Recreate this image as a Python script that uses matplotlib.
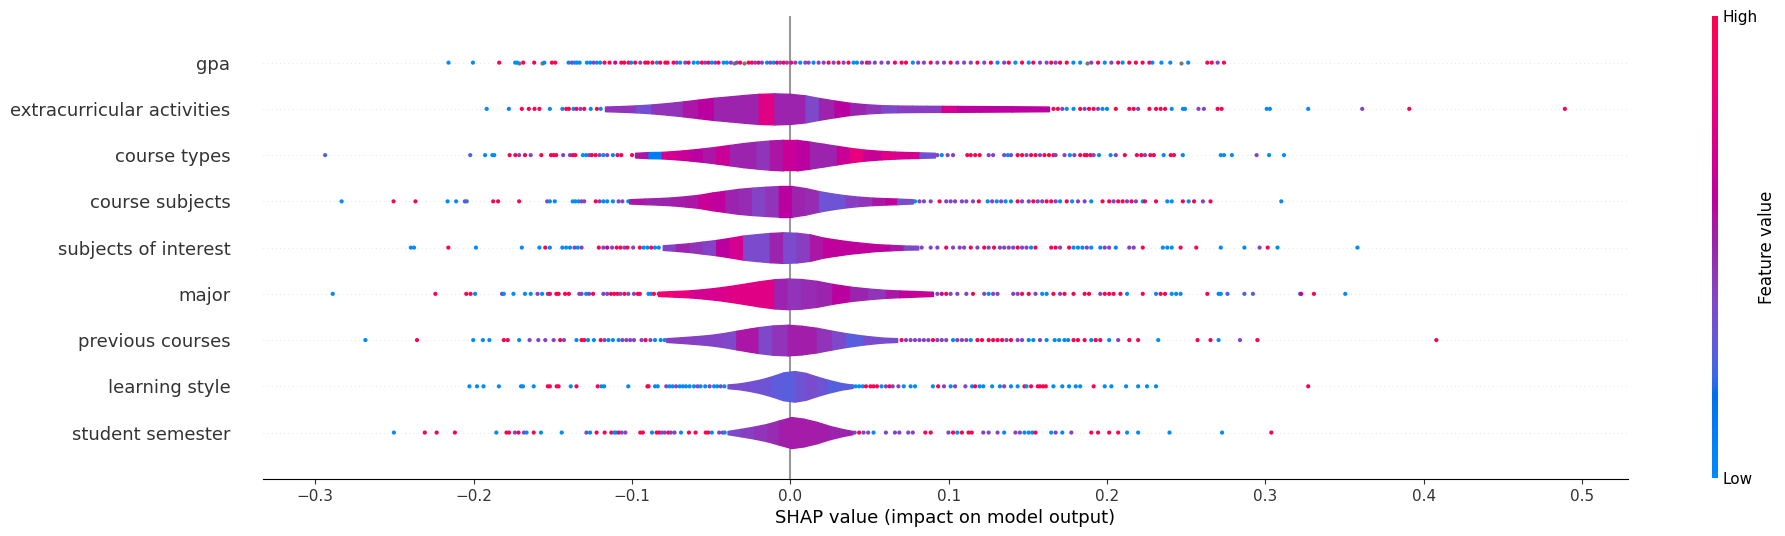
import numpy as np
import matplotlib
matplotlib.use("Agg")
import matplotlib.pyplot as plt
from matplotlib.colors import LinearSegmentedColormap
from matplotlib.cm import ScalarMappable

# -----------------------------
# Data
# -----------------------------
# features, top row first
features = [
    "gpa",
    "extracurricular activities",
    "course types",
    "course subjects",
    "subjects of interest",
    "major",
    "previous courses",
    "learning style",
    "student semester",
]

# dot colour codes -> feature value (low..high), "g" = missing value
value_codes = {"b": 0.0, "v": 0.25, "p": 0.4, "m": 0.65, "r": 1.0, "g": np.nan}

# points drawn as dots: (shap value, colour code)
gpa_points = [
    (-0.2158, "b"), (-0.2004, "b"), (-0.1838, "r"), (-0.1737, "b"), (-0.1724, "b"), (-0.1711, "g"),
    (-0.1686, "r"), (-0.1617, "r"), (-0.1568, "g"), (-0.1553, "b"), (-0.1505, "r"), (-0.1484, "r"),
    (-0.1400, "b"), (-0.1379, "p"), (-0.1362, "b"), (-0.1347, "b"), (-0.1330, "b"), (-0.1284, "b"),
    (-0.1263, "b"), (-0.1242, "p"), (-0.1221, "b"), (-0.1200, "b"), (-0.1173, "r"), (-0.1141, "r"),
    (-0.1105, "m"), (-0.1067, "r"), (-0.1048, "r"), (-0.1021, "r"), (-0.1004, "b"), (-0.0979, "r"),
    (-0.0947, "p"), (-0.0916, "r"), (-0.0899, "r"), (-0.0870, "r"), (-0.0842, "b"), (-0.0821, "r"),
    (-0.0789, "r"), (-0.0775, "r"), (-0.0737, "r"), (-0.0716, "p"), (-0.0695, "b"), (-0.0663, "p"),
    (-0.0642, "r"), (-0.0610, "b"), (-0.0583, "b"), (-0.0558, "r"), (-0.0537, "p"), (-0.0516, "r"),
    (-0.0495, "b"), (-0.0474, "p"), (-0.0453, "r"), (-0.0421, "b"), (-0.0400, "b"), (-0.0375, "p"),
    (-0.0358, "g"), (-0.0337, "p"), (-0.0316, "r"), (-0.0295, "g"), (-0.0263, "r"), (-0.0242, "r"),
    (-0.0221, "p"), (-0.0200, "r"), (-0.0179, "p"), (-0.0147, "b"), (-0.0126, "p"), (-0.0105, "b"),
    (-0.0084, "r"), (-0.0063, "p"), (-0.0042, "r"), (-0.0021, "p"), (0.0006, "r"), (0.0032, "p"),
    (0.0063, "b"), (0.0095, "p"), (0.0116, "p"), (0.0147, "b"), (0.0179, "p"), (0.0211, "p"),
    (0.0242, "r"), (0.0274, "p"), (0.0305, "r"), (0.0337, "p"), (0.0368, "r"), (0.0400, "b"),
    (0.0421, "b"), (0.0453, "p"), (0.0484, "r"), (0.0500, "p"), (0.0534, "p"), (0.0576, "p"),
    (0.0618, "p"), (0.0661, "r"), (0.0703, "r"), (0.0731, "r"), (0.0774, "b"), (0.0808, "p"),
    (0.0844, "p"), (0.0887, "r"), (0.0929, "p"), (0.0971, "p"), (0.1013, "r"), (0.1055, "p"),
    (0.1098, "p"), (0.1140, "p"), (0.1182, "r"), (0.1225, "p"), (0.1267, "r"), (0.1309, "b"),
    (0.1351, "p"), (0.1380, "r"), (0.1422, "b"), (0.1464, "r"), (0.1506, "b"), (0.1535, "r"),
    (0.1577, "p"), (0.1619, "p"), (0.1648, "r"), (0.1676, "p"), (0.1704, "r"), (0.1746, "r"),
    (0.1788, "b"), (0.1831, "b"), (0.1873, "g"), (0.1901, "p"), (0.1944, "r"), (0.1986, "b"),
    (0.2028, "p"), (0.2071, "r"), (0.2099, "b"), (0.2141, "r"), (0.2183, "r"), (0.2225, "r"),
    (0.2268, "r"), (0.2287, "b"), (0.2344, "b"), (0.2400, "b"), (0.2465, "g"), (0.2513, "b"),
    (0.2634, "r"), (0.2662, "r"), (0.2699, "p"), (0.2739, "r"),
]

extra_points = [
    (-0.1917, "b"), (-0.1777, "b"), (-0.1695, "r"), (-0.1651, "r"), (-0.1615, "r"), (-0.1584, "r"),
    (-0.1518, "b"), (-0.1439, "b"), (-0.1415, "r"), (-0.1398, "r"), (-0.1369, "b"), (-0.1350, "r"),
    (-0.1325, "p"), (-0.1301, "r"), (-0.1260, "b"), (-0.1221, "r"), (-0.1197, "b"),
    (0.1662, "r"), (0.1690, "r"), (0.1718, "p"), (0.1746, "b"), (0.1789, "b"), (0.1831, "r"),
    (0.1859, "p"), (0.1887, "r"), (0.1916, "r"), (0.1944, "p"), (0.1972, "b"), (0.2000, "b"),
    (0.2056, "r"), (0.2141, "r"), (0.2169, "r"), (0.2197, "p"), (0.2268, "r"), (0.2310, "r"),
    (0.2339, "r"), (0.2367, "r"), (0.2409, "b"), (0.2480, "b"), (0.2493, "b"), (0.2578, "p"),
    (0.2612, "p"), (0.2699, "r"), (0.2724, "r"), (0.3009, "b"), (0.3029, "b"), (0.3271, "b"),
    (0.3612, "p"), (0.3909, "r"), (0.4892, "r"),
]

types_points = [
    (-0.2937, "v"), (-0.2021, "v"), (-0.1927, "b"), (-0.1881, "b"), (-0.1869, "b"), (-0.1772, "r"),
    (-0.1736, "r"), (-0.1712, "p"), (-0.1675, "r"), (-0.1639, "p"), (-0.1572, "r"), (-0.1511, "r"),
    (-0.1494, "r"), (-0.1478, "r"), (-0.1434, "p"), (-0.1391, "p"), (-0.1374, "r"), (-0.1357, "r"),
    (-0.1309, "b"), (-0.1289, "b"), (-0.1270, "p"), (-0.1253, "r"), (-0.1229, "r"), (-0.1204, "p"),
    (-0.1180, "b"), (-0.1156, "p"), (-0.1120, "b"), (-0.1091, "r"), (-0.1067, "r"), (-0.0999, "r"),
    (0.0929, "p"), (0.0957, "b"), (0.0994, "p"), (0.1028, "p"), (0.1118, "r"), (0.1140, "r"),
    (0.1168, "r"), (0.1196, "r"), (0.1253, "p"), (0.1281, "p"), (0.1351, "p"), (0.1374, "b"),
    (0.1394, "p"), (0.1436, "r"), (0.1464, "r"), (0.1492, "p"), (0.1521, "r"), (0.1549, "r"),
    (0.1577, "p"), (0.1605, "r"), (0.1634, "r"), (0.1662, "r"), (0.1676, "p"), (0.1732, "p"),
    (0.1766, "b"), (0.1794, "p"), (0.1831, "r"), (0.1859, "r"), (0.1873, "r"), (0.1896, "r"),
    (0.1916, "p"), (0.1950, "b"), (0.2023, "b"), (0.2056, "p"), (0.2113, "r"), (0.2189, "r"),
    (0.2217, "r"), (0.2240, "p"), (0.2274, "r"), (0.2296, "r"), (0.2358, "b"), (0.2403, "r"),
    (0.2423, "r"), (0.2479, "b"), (0.2719, "b"), (0.2739, "b"), (0.2789, "b"), (0.2945, "p"),
    (0.3024, "b"), (0.3118, "b"),
]

subjects_points = [
    (-0.2833, "b"), (-0.2505, "r"), (-0.2367, "r"), (-0.2164, "b"), (-0.2110, "b"), (-0.2055, "v"),
    (-0.2043, "v"), (-0.1876, "r"), (-0.1845, "r"), (-0.1712, "r"), (-0.1535, "p"), (-0.1518, "b"),
    (-0.1487, "b"), (-0.1374, "b"), (-0.1357, "b"), (-0.1337, "b"), (-0.1318, "p"), (-0.1301, "p"),
    (-0.1228, "r"), (-0.1204, "p"), (-0.1180, "b"), (-0.1156, "b"), (-0.1120, "b"), (-0.1084, "p"),
    (-0.1060, "p"), (-0.1023, "b"),
    (0.0788, "b"), (0.0816, "p"), (0.0844, "p"), (0.0887, "p"), (0.0943, "r"), (0.0985, "p"),
    (0.1013, "p"), (0.1041, "p"), (0.1084, "p"), (0.1112, "p"), (0.1154, "p"), (0.1191, "r"),
    (0.1247, "b"), (0.1275, "p"), (0.1304, "b"), (0.1332, "p"), (0.1360, "b"), (0.1394, "b"),
    (0.1436, "r"), (0.1464, "p"), (0.1506, "p"), (0.1535, "r"), (0.1563, "p"), (0.1591, "p"),
    (0.1619, "r"), (0.1648, "r"), (0.1676, "p"), (0.1704, "b"), (0.1746, "r"), (0.1780, "b"),
    (0.1817, "p"), (0.1859, "p"), (0.1901, "b"), (0.1972, "r"), (0.2014, "r"), (0.2042, "p"),
    (0.2071, "r"), (0.2099, "r"), (0.2127, "p"), (0.2155, "r"), (0.2183, "p"), (0.2226, "b"),
    (0.2240, "r"), (0.2310, "r"), (0.2381, "b"), (0.2409, "b"), (0.2479, "r"), (0.2516, "b"),
    (0.2550, "r"), (0.2606, "p"), (0.2654, "r"), (0.3101, "b"),
]

interest_points = [
    (-0.2396, "b"), (-0.2376, "b"), (-0.2159, "r"), (-0.1985, "b"), (-0.1695, "b"), (-0.1584, "b"),
    (-0.1547, "r"), (-0.1518, "b"), (-0.1439, "b"), (-0.1415, "b"), (-0.1391, "b"), (-0.1362, "p"),
    (-0.1342, "b"), (-0.1318, "p"), (-0.1209, "r"), (-0.1180, "p"), (-0.1156, "m"), (-0.1125, "p"),
    (-0.1096, "r"), (-0.1072, "r"), (-0.1047, "p"), (-0.1028, "r"), (-0.0992, "p"), (-0.0950, "r"),
    (-0.0926, "b"), (-0.0902, "b"), (-0.0878, "r"), (-0.0854, "b"), (-0.0830, "b"),
    (0.0830, "p"), (0.0887, "p"), (0.0929, "p"), (0.0985, "r"), (0.1028, "p"), (0.1070, "p"),
    (0.1098, "p"), (0.1140, "r"), (0.1182, "p"), (0.1225, "r"), (0.1253, "p"), (0.1287, "r"),
    (0.1324, "p"), (0.1351, "p"), (0.1380, "p"), (0.1408, "p"), (0.1436, "r"), (0.1464, "p"),
    (0.1492, "p"), (0.1521, "b"), (0.1549, "r"), (0.1648, "r"), (0.1676, "r"), (0.1704, "p"),
    (0.1761, "r"), (0.1789, "b"), (0.1817, "b"), (0.1845, "b"), (0.1873, "p"), (0.1901, "b"),
    (0.1958, "b"), (0.1986, "p"), (0.2014, "p"), (0.2056, "b"), (0.2141, "p"), (0.2169, "p"),
    (0.2226, "r"), (0.2353, "b"), (0.2381, "b"), (0.2409, "b"), (0.2465, "r"), (0.2564, "r"),
    (0.2719, "b"), (0.2868, "b"), (0.2964, "p"), (0.3015, "r"), (0.3077, "b"), (0.3582, "b"),
]

major_points = [
    (-0.2889, "b"), (-0.2241, "r"), (-0.2046, "r"), (-0.2019, "r"), (-0.1990, "b"), (-0.1820, "p"),
    (-0.1809, "b"), (-0.1748, "b"), (-0.1675, "b"), (-0.1639, "b"), (-0.1596, "p"), (-0.1567, "b"),
    (-0.1531, "p"), (-0.1518, "r"), (-0.1477, "r"), (-0.1463, "r"), (-0.1422, "r"), (-0.1398, "r"),
    (-0.1332, "p"), (-0.1318, "p"), (-0.1289, "b"), (-0.1270, "p"), (-0.1245, "r"), (-0.1180, "p"),
    (-0.1156, "p"), (-0.1132, "r"), (-0.1112, "r"), (-0.1091, "r"), (-0.1072, "p"), (-0.1047, "r"),
    (-0.1023, "p"), (-0.0987, "p"), (-0.0963, "r"), (-0.0950, "r"), (-0.0895, "b"), (-0.0878, "b"),
    (-0.0861, "r"), (-0.0830, "r"),
    (0.0929, "p"), (0.0957, "m"), (0.0985, "r"), (0.1013, "p"), (0.1055, "p"), (0.1112, "p"),
    (0.1154, "r"), (0.1225, "p"), (0.1253, "b"), (0.1281, "p"), (0.1309, "p"), (0.1408, "p"),
    (0.1436, "p"), (0.1464, "r"), (0.1506, "r"), (0.1549, "p"), (0.1591, "b"), (0.1619, "b"),
    (0.1662, "r"), (0.1704, "p"), (0.1732, "r"), (0.1789, "r"), (0.1859, "r"), (0.1887, "r"),
    (0.1958, "p"), (0.1986, "r"), (0.2014, "r"), (0.2042, "r"), (0.2085, "r"), (0.2127, "b"),
    (0.2226, "r"), (0.2310, "b"), (0.2339, "r"), (0.2367, "r"), (0.2409, "b"), (0.2437, "b"),
    (0.2465, "b"), (0.2634, "r"), (0.2705, "b"), (0.2719, "b"), (0.2761, "v"), (0.2868, "v"),
    (0.2922, "v"), (0.3220, "v"), (0.3227, "m"), (0.3307, "r"), (0.3505, "b"),
]

previous_points = [
    (-0.2683, "b"), (-0.2357, "r"), (-0.2002, "b"), (-0.1941, "b"), (-0.1900, "b"), (-0.1809, "r"),
    (-0.1784, "r"), (-0.1712, "b"), (-0.1646, "p"), (-0.1591, "p"), (-0.1547, "p"), (-0.1494, "p"),
    (-0.1453, "r"), (-0.1429, "p"), (-0.1350, "b"), (-0.1318, "r"), (-0.1301, "r"), (-0.1277, "b"),
    (-0.1240, "b"), (-0.1197, "r"), (-0.1173, "p"), (-0.1148, "b"), (-0.1120, "b"), (-0.1084, "b"),
    (-0.1060, "p"), (-0.1035, "p"), (-0.1011, "p"), (-0.0987, "p"), (-0.0939, "p"), (-0.0914, "r"),
    (-0.0883, "p"), (-0.0854, "b"), (-0.0818, "b"), (-0.0793, "b"),
    (0.0703, "r"), (0.0731, "p"), (0.0760, "p"), (0.0788, "p"), (0.0816, "p"), (0.0844, "p"),
    (0.0872, "p"), (0.0901, "r"), (0.0929, "p"), (0.0957, "p"), (0.0985, "p"), (0.1028, "b"),
    (0.1055, "p"), (0.1084, "p"), (0.1112, "p"), (0.1140, "b"), (0.1182, "r"), (0.1211, "r"),
    (0.1253, "r"), (0.1281, "r"), (0.1309, "r"), (0.1338, "r"), (0.1366, "p"), (0.1394, "r"),
    (0.1436, "p"), (0.1464, "p"), (0.1506, "b"), (0.1535, "b"), (0.1577, "p"), (0.1619, "b"),
    (0.1670, "b"), (0.1698, "b"), (0.1732, "b"), (0.1755, "b"), (0.1789, "r"), (0.1817, "r"),
    (0.1859, "r"), (0.1901, "b"), (0.1929, "r"), (0.1958, "r"), (0.2014, "b"), (0.2071, "p"),
    (0.2141, "r"), (0.2197, "r"), (0.2324, "b"), (0.2572, "r"), (0.2654, "r"), (0.2705, "b"),
    (0.2840, "p"), (0.2950, "r"), (0.4080, "r"),
]

learning_points = [
    (-0.2026, "b"), (-0.1978, "b"), (-0.1937, "b"), (-0.1840, "b"), (-0.1700, "b"), (-0.1688, "b"),
    (-0.1620, "b"), (-0.1531, "r"), (-0.1518, "r"), (-0.1475, "r"), (-0.1463, "r"), (-0.1386, "b"),
    (-0.1350, "r"), (-0.1216, "r"), (-0.1192, "b"), (-0.1175, "b"), (-0.1023, "b"), (-0.0902, "r"),
    (-0.0895, "r"), (-0.0854, "b"), (-0.0837, "b"), (-0.0783, "p"), (-0.0763, "b"), (-0.0743, "b"),
    (-0.0721, "p"), (-0.0698, "b"), (-0.0678, "b"), (-0.0659, "b"), (-0.0636, "b"), (-0.0608, "b"),
    (-0.0585, "p"), (-0.0566, "b"), (-0.0537, "b"), (-0.0509, "p"), (-0.0481, "b"), (-0.0461, "b"),
    (-0.0439, "p"), (-0.0416, "b"),
    (0.0393, "b"), (0.0413, "b"), (0.0435, "b"), (0.0458, "b"), (0.0478, "r"), (0.0506, "r"),
    (0.0526, "r"), (0.0548, "r"), (0.0576, "b"), (0.0604, "p"), (0.0627, "r"), (0.0647, "p"),
    (0.0683, "p"), (0.0717, "b"), (0.0760, "b"), (0.0788, "b"), (0.0901, "b"), (0.0934, "r"),
    (0.0971, "p"), (0.1013, "b"), (0.1041, "p"), (0.1106, "p"), (0.1148, "b"), (0.1168, "r"),
    (0.1196, "b"), (0.1219, "b"), (0.1275, "b"), (0.1324, "b"), (0.1351, "p"), (0.1394, "b"),
    (0.1436, "b"), (0.1479, "r"), (0.1492, "b"), (0.1521, "r"), (0.1563, "r"), (0.1577, "r"),
    (0.1597, "r"), (0.1614, "r"), (0.1662, "b"), (0.1718, "b"), (0.1761, "b"), (0.1803, "b"),
    (0.1831, "b"), (0.1916, "r"), (0.1986, "b"), (0.2028, "b"), (0.2121, "b"), (0.2197, "b"),
    (0.2253, "b"), (0.2310, "b"), (0.3271, "r"),
]

semester_points = [
    (-0.2503, "b"), (-0.2308, "r"), (-0.2233, "r"), (-0.2118, "r"), (-0.1856, "b"), (-0.1792, "r"),
    (-0.1776, "r"), (-0.1739, "p"), (-0.1716, "r"), (-0.1682, "p"), (-0.1665, "b"), (-0.1620, "r"),
    (-0.1574, "b"), (-0.1443, "b"), (-0.1287, "p"), (-0.1264, "b"), (-0.1223, "r"), (-0.1172, "r"),
    (-0.1130, "r"), (-0.1111, "b"), (-0.1099, "b"), (-0.1083, "r"), (-0.1065, "p"), (-0.1041, "p"),
    (-0.0947, "r"), (-0.0931, "r"), (-0.0873, "b"), (-0.0844, "r"), (-0.0828, "r"), (-0.0812, "p"),
    (-0.0793, "p"), (-0.0770, "r"), (-0.0754, "p"), (-0.0731, "p"), (-0.0690, "b"), (-0.0640, "r"),
    (-0.0598, "r"), (-0.0534, "r"), (-0.0518, "r"), (-0.0495, "b"), (-0.0449, "p"), (-0.0426, "p"),
    (-0.0414, "b"),
    (0.0407, "p"), (0.0435, "r"), (0.0463, "p"), (0.0492, "p"), (0.0526, "b"), (0.0604, "p"),
    (0.0661, "p"), (0.0689, "p"), (0.0745, "p"), (0.0774, "p"), (0.0853, "r"), (0.0887, "r"),
    (0.0999, "p"), (0.1028, "r"), (0.1055, "b"), (0.1084, "r"), (0.1126, "r"), (0.1146, "r"),
    (0.1219, "p"), (0.1253, "p"), (0.1309, "p"), (0.1351, "b"), (0.1422, "p"), (0.1450, "p"),
    (0.1479, "b"), (0.1506, "b"), (0.1529, "b"), (0.1549, "r"), (0.1648, "b"), (0.1676, "p"),
    (0.1718, "b"), (0.1775, "p"), (0.1901, "r"), (0.1944, "r"), (0.2014, "r"), (0.2071, "r"),
    (0.2127, "b"), (0.2197, "b"), (0.2395, "b"), (0.2727, "b"), (0.3038, "r"),
]

# violin bodies: band edges (shap value), half height at each edge, mean feature value per band
extra_edges = [-0.117, -0.1073, -0.0974, -0.0876, -0.0777, -0.0678, -0.0580, -0.0481, -0.0382,
               -0.0290, -0.0199, -0.0100, 0.0, 0.0097, 0.0182, 0.0280, 0.0379, 0.0478, 0.0576,
               0.0675, 0.0770, 0.0860, 0.0957, 0.1055, 0.1200, 0.1400, 0.1634]
extra_width = [0.05, 0.06, 0.075, 0.095, 0.125, 0.16, 0.20, 0.24, 0.27, 0.30, 0.325, 0.335, 0.325,
               0.29, 0.235, 0.18, 0.13, 0.10, 0.08, 0.072, 0.068, 0.066, 0.065, 0.063, 0.06, 0.056, 0.05]
extra_shade = [0.45, 0.45, 0.35, 0.45, 0.45, 0.55, 0.6, 0.5, 0.5, 0.5, 0.75, 0.5, 0.5, 0.38, 0.5,
               0.6, 0.5, 0.45, 0.38, 0.42, 0.42, 0.42, 0.7, 0.6, 0.6, 0.6]

types_edges = [-0.0980, -0.0895, -0.0811, -0.0721, -0.0636, -0.0552, -0.0467, -0.0382, -0.0297,
               -0.0213, -0.0129, -0.0044, 0.0040, 0.0125, 0.0210, 0.0294, 0.0379, 0.0463, 0.0576,
               0.0661, 0.0745, 0.0816, 0.0914]
types_width = [0.05, 0.065, 0.07, 0.09, 0.115, 0.145, 0.18, 0.22, 0.26, 0.29, 0.315, 0.33, 0.33,
               0.29, 0.245, 0.2, 0.155, 0.12, 0.09, 0.075, 0.065, 0.06, 0.05]
types_shade = [0.55, 0.1, 0.7, 0.65, 0.6, 0.55, 0.65, 0.5, 0.5, 0.45, 0.55, 0.65, 0.6, 0.5, 0.5,
               0.65, 0.8, 0.65, 0.75, 0.7, 0.7, 0.35]

subjects_edges = [-0.1017, -0.0918, -0.0834, -0.0749, -0.0664, -0.0580, -0.0495, -0.0410, -0.0326,
                  -0.0241, -0.0157, -0.0072, 0.0012, 0.0097, 0.0182, 0.0266, 0.0350, 0.0435, 0.0520,
                  0.0604, 0.0675, 0.0774]
subjects_width = [0.045, 0.06, 0.07, 0.085, 0.11, 0.14, 0.19, 0.23, 0.27, 0.295, 0.315, 0.33, 0.33,
                  0.285, 0.22, 0.17, 0.13, 0.1, 0.08, 0.068, 0.06, 0.045]
subjects_shade = [0.55, 0.5, 0.5, 0.52, 0.55, 0.65, 0.62, 0.5, 0.48, 0.4, 0.45, 0.6, 0.5, 0.48,
                  0.33, 0.33, 0.42, 0.45, 0.55, 0.62, 0.36]

interest_edges = [-0.0805, -0.0721, -0.0636, -0.0552, -0.0467, -0.0382, -0.0297, -0.0213, -0.0129,
                  -0.0044, 0.0040, 0.0125, 0.0210, 0.0294, 0.0379, 0.0463, 0.0548, 0.0633, 0.0717,
                  0.0808]
interest_width = [0.05, 0.07, 0.095, 0.13, 0.165, 0.21, 0.26, 0.29, 0.316, 0.33, 0.32, 0.285, 0.215,
                  0.17, 0.13, 0.1, 0.072, 0.058, 0.045, 0.04]
interest_shade = [0.4, 0.5, 0.45, 0.4, 0.6, 0.7, 0.37, 0.37, 0.5, 0.37, 0.42, 0.55, 0.62, 0.62,
                  0.62, 0.62, 0.6, 0.55, 0.38]

major_edges = [-0.0834, -0.0735, -0.0636, -0.0552, -0.0467, -0.0382, -0.0297, -0.0199, -0.0100,
               -0.0016, 0.0069, 0.0168, 0.0266, 0.0379, 0.0492, 0.0604, 0.0689, 0.0774, 0.0901]
major_width = [0.045, 0.06, 0.075, 0.1, 0.13, 0.17, 0.215, 0.27, 0.315, 0.33, 0.32, 0.28, 0.215,
               0.155, 0.115, 0.085, 0.072, 0.062, 0.045]
major_shade = [0.85, 0.8, 0.7, 0.7, 0.72, 0.75, 0.75, 0.75, 0.5, 0.45, 0.48, 0.5, 0.6, 0.5, 0.45,
               0.55, 0.62, 0.65]

previous_edges = [-0.0783, -0.0692, -0.0594, -0.0509, -0.0424, -0.0340, -0.0255, -0.0199, -0.0114,
                  -0.0016, 0.0069, 0.0168, 0.0266, 0.0350, 0.0463, 0.0576, 0.0675]
previous_width = [0.04, 0.06, 0.085, 0.11, 0.15, 0.2, 0.25, 0.28, 0.315, 0.33, 0.31, 0.265, 0.2,
                  0.15, 0.095, 0.055, 0.04]
previous_shade = [0.42, 0.42, 0.4, 0.4, 0.38, 0.55, 0.55, 0.38, 0.45, 0.52, 0.52, 0.45, 0.38, 0.28,
                  0.36, 0.36]

learning_edges = [-0.0396, -0.0326, -0.0255, -0.0185, -0.0114, -0.0044, 0.0027, 0.0097, 0.0168,
                  0.0238, 0.0323, 0.0393]
learning_width = [0.04, 0.06, 0.10, 0.15, 0.22, 0.30, 0.33, 0.29, 0.21, 0.14, 0.07, 0.035]
learning_shade = [0.36, 0.36, 0.34, 0.33, 0.29, 0.28, 0.33, 0.36, 0.33, 0.27, 0.28]

semester_edges = [-0.0396, -0.0312, -0.0227, -0.0143, -0.0072, 0.0007, 0.0083, 0.0168, 0.0252,
                  0.0337, 0.0393]
semester_width = [0.035, 0.08, 0.13, 0.19, 0.26, 0.335, 0.30, 0.23, 0.14, 0.07, 0.035]
semester_shade = [0.38, 0.42, 0.45, 0.48, 0.52, 0.53, 0.53, 0.52, 0.5, 0.5]


# -----------------------------
# Colour map (shap red_blue, interpolated in LCH)
# -----------------------------
def lch_to_rgb(l, c, h):
    a, b = c * np.cos(h), c * np.sin(h)
    fy = (l + 16.0) / 116.0
    f = np.array([fy + a / 500.0, fy, fy - b / 200.0])
    xyz = np.where(f > 6 / 29, f ** 3, 3 * (6 / 29) ** 2 * (f - 4 / 29))
    xyz = xyz * np.array([0.95047, 1.0, 1.08883])
    mat = np.array([[3.2406, -1.5372, -0.4986],
                    [-0.9689, 1.8758, 0.0415],
                    [0.0557, -0.2040, 1.0570]])
    rgb = mat @ xyz
    rgb = np.where(rgb > 0.0031308, 1.055 * np.abs(rgb) ** (1 / 2.4) - 0.055, 12.92 * rgb)
    return np.clip(rgb, 0, 1)


def shap_red_blue():
    blue_lch = [54.0, 70.0, 4.6588]
    red_lch = [54.0, 90.0, 0.35470565 + 2 * np.pi]
    n = 100
    ls = list(np.linspace(blue_lch[0], 40.0, n // 2)) + list(np.linspace(40.0, red_lch[0], n // 2))
    cs = np.linspace(blue_lch[1], red_lch[1], n)
    hs = np.linspace(blue_lch[2], red_lch[2], n)
    cols = [lch_to_rgb(l, c, h) for l, c, h in zip(ls, cs, hs)]
    return LinearSegmentedColormap.from_list("red_blue", cols)


# -----------------------------
# Plot
# -----------------------------
def main():
    cmap = shap_red_blue()

    rows = {
        "gpa": (gpa_points, None, None, None),
        "extracurricular activities": (extra_points, extra_edges, extra_width, extra_shade),
        "course types": (types_points, types_edges, types_width, types_shade),
        "course subjects": (subjects_points, subjects_edges, subjects_width, subjects_shade),
        "subjects of interest": (interest_points, interest_edges, interest_width, interest_shade),
        "major": (major_points, major_edges, major_width, major_shade),
        "previous courses": (previous_points, previous_edges, previous_width, previous_shade),
        "learning style": (learning_points, learning_edges, learning_width, learning_shade),
        "student semester": (semester_points, semester_edges, semester_width, semester_shade),
    }

    fig = plt.figure(figsize=(17.85, 5.36), dpi=100)
    ax = fig.add_axes([0.1473, 0.1067, 0.7647, 0.8627])

    ax.axvline(x=0, color="#999999", zorder=-1)

    n = len(features)
    for k, name in enumerate(features):
        pos = n - 1 - k
        points, edges, width, shade = rows[name]
        ax.axhline(y=pos, color="#cccccc", lw=0.5, dashes=(1, 5), zorder=-1)

        xs = np.array([p[0] for p in points])
        vals = np.array([value_codes[p[1]] for p in points])
        miss = np.isnan(vals)
        ax.scatter(xs[miss], np.full(miss.sum(), pos), color="#777777", s=9,
                   linewidth=0, zorder=1)
        ax.scatter(xs[~miss], np.full((~miss).sum(), pos), c=vals[~miss], cmap=cmap,
                   vmin=0, vmax=1, s=9, linewidth=0, zorder=1)

        if edges is None:
            continue
        for i in range(len(edges) - 1):
            ax.fill_between([edges[i], edges[i + 1]],
                            [pos + width[i], pos + width[i + 1]],
                            [pos - width[i], pos - width[i + 1]],
                            color=cmap(shade[i]), zorder=2)

    ax.set_xlim(-0.333, 0.529)
    ax.set_ylim(-1, n)
    ax.set_yticks(range(n))
    ax.set_yticklabels(features[::-1], fontsize=13)
    for side in ("right", "top", "left"):
        ax.spines[side].set_visible(False)
    ax.tick_params(color="#333333", labelcolor="#333333")
    ax.tick_params("x", labelsize=11)
    ax.tick_params("y", length=20, width=0, which="major")
    ax.set_xlabel("SHAP value (impact on model output)", fontsize=13)

    # colour bar
    cax = fig.add_axes([0.9591, 0.109, 0.0034, 0.861])
    m = ScalarMappable(cmap=cmap)
    m.set_array([0, 1])
    cb = fig.colorbar(m, cax=cax, ticks=[0, 1])
    cb.set_ticklabels(["Low", "High"])
    cb.set_label("Feature value", size=12, labelpad=0)
    cb.ax.tick_params(labelsize=11, length=0)
    cb.outline.set_visible(False)

    fig.savefig("out.png", dpi=100)
    plt.close(fig)


if __name__ == "__main__":
    main()
